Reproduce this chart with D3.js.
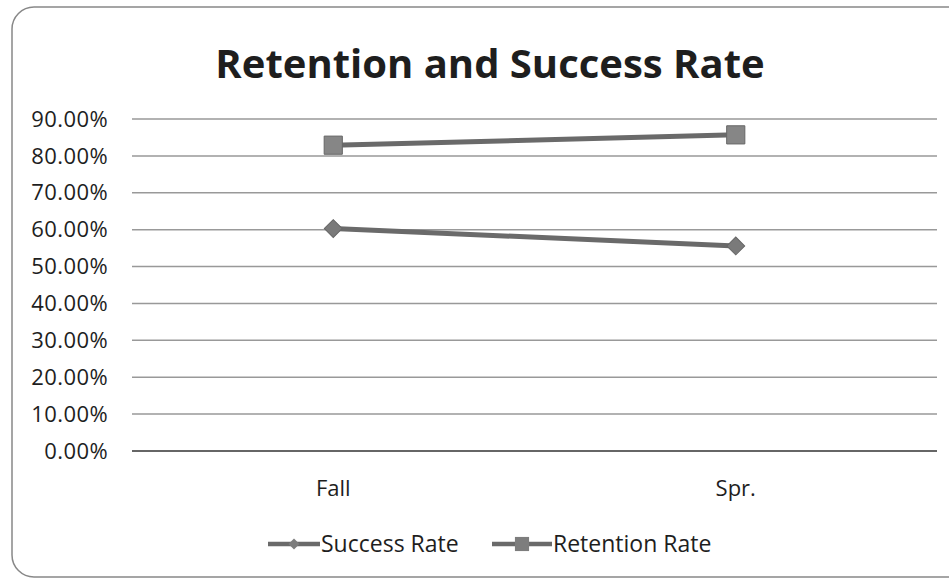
<!DOCTYPE html>
<html>
<head>
<meta charset="utf-8">
<script src="https://cdn.jsdelivr.net/npm/d3@7"></script>
<style>
  body { margin: 0; background: #fff; }
  text { font-family: "Open Sans", "Noto Sans", sans-serif; fill: #1e1e1e; }
</style>
</head>
<body>
<div id="chart"></div>
<script>
var categories = ["Fall", "Spr."];
var successRate = [0.603, 0.556];
var retentionRate = [0.829, 0.857];
var yTicks = [0, 0.1, 0.2, 0.3, 0.4, 0.5, 0.6, 0.7, 0.8, 0.9];

var width = 949, height = 580;
var svg = d3.select("#chart").append("svg")
  .attr("width", width)
  .attr("height", height);

// outer frame
svg.append("rect")
  .attr("x", 12).attr("y", 7)
  .attr("width", 960).attr("height", 570)
  .attr("rx", 22)
  .attr("fill", "#fff")
  .attr("stroke", "#888")
  .attr("stroke-width", 1.5);

svg.append("text")
  .attr("x", 490).attr("y", 78)
  .attr("text-anchor", "middle")
  .attr("font-size", 40)
  .attr("font-weight", "bold")
  .text("Retention and Success Rate");

var left = 132, right = 937;
var x = d3.scalePoint().domain(categories).range([left, right]).padding(0.5);
var y = d3.scaleLinear().domain([0, 0.9]).range([451, 119]);

// gridlines
svg.append("g").selectAll("line")
  .data(yTicks)
  .join("line")
  .attr("x1", left).attr("x2", right)
  .attr("y1", function(d) { return y(d); })
  .attr("y2", function(d) { return y(d); })
  .attr("stroke", function(d) { return d === 0 ? "#666" : "#999"; })
  .attr("stroke-width", function(d) { return d === 0 ? 2 : 1.5; });

// y tick labels
svg.append("g").selectAll("text")
  .data(yTicks)
  .join("text")
  .attr("x", 108)
  .attr("y", function(d) { return y(d); })
  .attr("dy", "0.35em")
  .attr("text-anchor", "end")
  .attr("font-size", 22)
  .attr("letter-spacing", 0.4)
  .text(function(d) { return d3.format(".2%")(d); });

// category labels
svg.append("g").selectAll("text")
  .data(categories)
  .join("text")
  .attr("x", function(d) { return x(d); })
  .attr("y", 496)
  .attr("text-anchor", "middle")
  .attr("font-size", 22)
  .text(function(d) { return d; });

var lineColor = "#6a6a6a";
var line = d3.line()
  .x(function(d, i) { return x(categories[i]); })
  .y(function(d) { return y(d); });

svg.append("path")
  .attr("d", line(retentionRate))
  .attr("fill", "none")
  .attr("stroke", lineColor)
  .attr("stroke-width", 5);

svg.append("path")
  .attr("d", line(successRate))
  .attr("fill", "none")
  .attr("stroke", lineColor)
  .attr("stroke-width", 5);

var square = d3.symbol().type(d3.symbolSquare).size(330);
var diamond = d3.symbol().type(d3.symbolSquare).size(160);

svg.append("g").selectAll("path")
  .data(retentionRate)
  .join("path")
  .attr("d", square)
  .attr("transform", function(d, i) { return "translate(" + x(categories[i]) + "," + y(d) + ")"; })
  .attr("fill", "#868686")
  .attr("stroke", "#666")
  .attr("stroke-width", 1);

svg.append("g").selectAll("path")
  .data(successRate)
  .join("path")
  .attr("d", diamond)
  .attr("transform", function(d, i) { return "translate(" + x(categories[i]) + "," + y(d) + ") rotate(45)"; })
  .attr("fill", "#7a7a7a")
  .attr("stroke", "#666")
  .attr("stroke-width", 1);

// legend
var legend = [
  { name: "Success Rate", x: 268, w: 52 },
  { name: "Retention Rate", x: 492, w: 60 }
];
var lg = svg.append("g").selectAll("g")
  .data(legend)
  .join("g")
  .attr("transform", function(d) { return "translate(" + d.x + ",544)"; });

lg.append("line")
  .attr("x1", 0).attr("x2", function(d) { return d.w; })
  .attr("stroke", lineColor)
  .attr("stroke-width", 4.5);

lg.append("path")
  .attr("d", function(d, i) {
    return i === 0 ? d3.symbol().type(d3.symbolSquare).size(60)() : d3.symbol().type(d3.symbolSquare).size(200)();
  })
  .attr("transform", function(d, i) {
    return "translate(" + (d.w / 2) + ",0)" + (i === 0 ? " rotate(45)" : "");
  })
  .attr("fill", "#7d7d7d");

lg.append("text")
  .attr("x", function(d) { return d.w + 1; })
  .attr("dy", "0.35em")
  .attr("font-size", 23)
  .text(function(d) { return d.name; });
</script>
</body>
</html>
